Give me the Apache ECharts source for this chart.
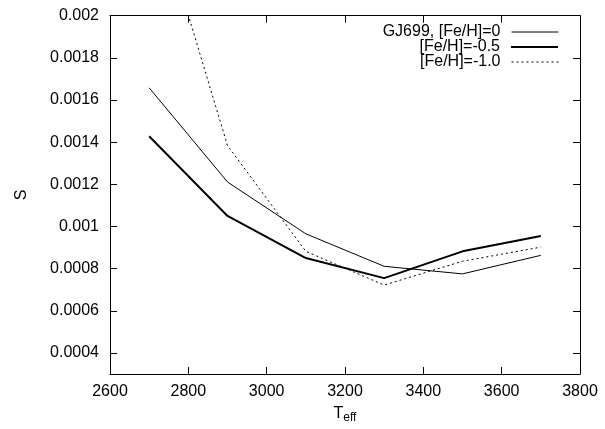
<!DOCTYPE html>
<html><head><meta charset="utf-8">
<script src="https://cdn.jsdelivr.net/npm/echarts@6/dist/echarts.min.js"></script>
<style>html,body{margin:0;padding:0;background:#fff}#c{width:605px;height:429px}</style>
</head><body><div id="c"></div>
<script>
const teff = [2700, 2900, 3100, 3300, 3500, 3700];
const sFe0 = [0.001658, 0.001211, 0.000965, 0.000811, 0.000775, 0.000863];
const sFeM05 = [0.001428, 0.00105, 0.00085, 0.000755, 0.000882, 0.000955];
const sFeM10 = [0.00262, 0.001384, 0.000882, 0.000722, 0.000835, 0.000902];
const names = ['GJ699, [Fe/H]=0', '[Fe/H]=-0.5', '[Fe/H]=-1.0'];
const xTicks = [2600, 2800, 3000, 3200, 3400, 3600, 3800];
const yTicks = [0.0004, 0.0006, 0.0008, 0.001, 0.0012, 0.0014, 0.0016, 0.0018, 0.002];

const font = 'Liberation Sans, Arial, sans-serif';
const pair = (xs, ys) => xs.map((x, i) => [x, ys[i]]);
const fmt = v => String(parseFloat(v.toPrecision(6)));
const lineStyles = [
  {color: '#000', width: 1, type: 'solid'},
  {color: '#000', width: 2, type: 'solid'},
  {color: '#000', width: 1, type: [2, 3]}
];

const chart = echarts.init(document.getElementById('c'));
const xBase = {
  type: 'value', min: 2600, max: 3800, interval: 200,
  axisLine: {lineStyle: {color: '#000', width: 1}},
  axisTick: {inside: true, length: 7, lineStyle: {color: '#000'}},
  splitLine: {show: false}
};
const yBase = {
  type: 'value', min: 0.0003, max: 0.002,
  axisLine: {show: true, lineStyle: {color: '#000', width: 1}},
  axisTick: {show: true, inside: true, length: 7, customValues: yTicks, lineStyle: {color: '#000'}},
  splitLine: {show: false}
};
const legendItem = (name, i) => ({
  data: [name], orient: 'vertical', right: 46, top: 24 + i * 15, padding: 0,
  align: 'right', itemWidth: 47, itemHeight: 14, selectedMode: false,
  itemStyle: {color: 'rgba(0,0,0,0)', borderColor: 'rgba(0,0,0,0)', borderWidth: 0},
  lineStyle: lineStyles[i],
  textStyle: {fontFamily: font, fontSize: 16, color: '#000', padding: [0, 6, 0, 0]}
});
chart.setOption({
  animation: false,
  grid: {left: 110, right: 25, top: 15.7, bottom: 52.3},
  legend: names.map(legendItem),
  xAxis: [
    Object.assign({}, xBase, {
      position: 'bottom',
      axisLabel: {color: '#000', fontFamily: font, fontSize: 16, margin: 10, formatter: v => String(v)},
      name: 'T{s|eff}', nameLocation: 'middle', nameGap: 30,
      nameTextStyle: {color: '#000', fontFamily: font, fontSize: 16,
        rich: {s: {fontFamily: font, fontSize: 12, color: '#000', verticalAlign: 'bottom', padding: [8, 0, 0, 0]}}}
    }),
    Object.assign({}, xBase, {position: 'top', axisLabel: {show: false}})
  ],
  yAxis: [
    Object.assign({}, yBase, {
      position: 'left',
      axisLabel: {color: '#000', fontFamily: font, fontSize: 16, margin: 11, customValues: yTicks, formatter: fmt},
      name: 'S', nameLocation: 'middle', nameRotate: 90, nameGap: 80,
      nameTextStyle: {color: '#000', fontFamily: font, fontSize: 16}
    }),
    Object.assign({}, yBase, {position: 'right', axisLabel: {show: false}})
  ],
  series: [
    {name: names[0], type: 'line', data: pair(teff, sFe0), showSymbol: false, symbol: 'none', clip: true,
      lineStyle: lineStyles[0], itemStyle: {color: '#000'}},
    {name: names[1], type: 'line', data: pair(teff, sFeM05), showSymbol: false, symbol: 'none', clip: true,
      lineStyle: lineStyles[1], itemStyle: {color: '#000'}},
    {name: names[2], type: 'line', data: pair(teff, sFeM10), showSymbol: false, symbol: 'none', clip: true,
      lineStyle: lineStyles[2], itemStyle: {color: '#000'}}
  ]
});
</script></body></html>
